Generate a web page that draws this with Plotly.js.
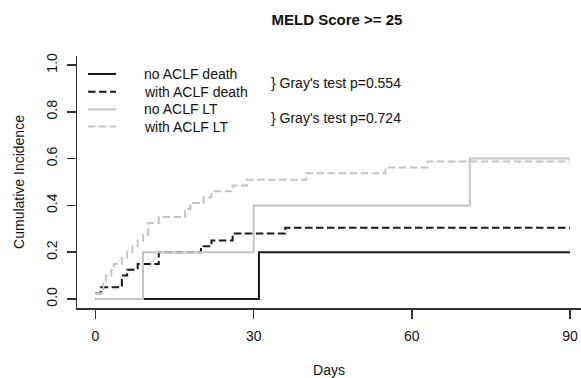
<!DOCTYPE html>
<html>
<head>
<meta charset="utf-8">
<script src="https://cdn.plot.ly/plotly-3.0.1.min.js"></script>
<style>html,body{margin:0;padding:0;background:#fff;}#chart{width:581px;height:378px;}</style>
</head>
<body>
<div id="chart"></div>
<script>
// Data (days, cumulative incidence)
var deathNoDays   = [0, 31, 90];
var deathNoVals   = [0, 0.2, 0.2];
var deathWithDays = [0, 1, 5, 6, 8, 12, 20, 22, 26, 36, 90];
var deathWithVals = [0.025, 0.05, 0.1, 0.125, 0.15, 0.2, 0.225, 0.25, 0.28, 0.305, 0.305];
var ltNoDays      = [0, 9, 30, 71, 90];
var ltNoVals      = [0, 0.2, 0.4, 0.6, 0.6];
var ltWithDays    = [0, 1.5, 2, 3, 3.5, 5, 6, 7, 8, 9, 10, 12, 17, 18, 20.5, 22, 26, 28.7, 40, 55, 63, 90];
var ltWithVals    = [0.025, 0.075, 0.1, 0.125, 0.15, 0.175, 0.2, 0.225, 0.25, 0.275, 0.325, 0.35, 0.385, 0.41, 0.435, 0.46, 0.485, 0.51, 0.5375, 0.5625, 0.5875, 0.5875];
var seriesNames   = ["no ACLF death", "with ACLF death", "no ACLF LT", "with ACLF LT"];
var testLabels    = ["} Gray's test p=0.554", "} Gray's test p=0.724"];
var xTicks        = [0, 30, 60, 90];
var yTicks        = [0, 0.2, 0.4, 0.6, 0.8, 1.0];
var yTickText     = ["0.0", "0.2", "0.4", "0.6", "0.8", "1.0"];

var FONT = "Liberation Sans, Arial, Helvetica, sans-serif";
var BLACK = "#1a1a1a", GRAY = "#c4c4c4";
var DASH = "7.5px,3.5px";
var styles = [
  {color: BLACK, dash: "solid"},
  {color: BLACK, dash: DASH},
  {color: GRAY,  dash: "solid"},
  {color: GRAY,  dash: DASH}
];
var xs = [deathNoDays, deathWithDays, ltNoDays, ltWithDays];
var ys = [deathNoVals, deathWithVals, ltNoVals, ltWithVals];

var traces = xs.map(function(x, i){
  return {
    x: x, y: ys[i], type: "scatter", mode: "lines", name: seriesNames[i],
    line: {shape: "hv", color: styles[i].color, dash: styles[i].dash, width: 2},
    showlegend: false, hoverinfo: "skip"
  };
});

// plot area geometry (pixels)
var L = 77, T = 56, W = 581, H = 378, B = 70, R = 0;
var pw = W - L - R, ph = H - T - B;
function px2x(p){ return (p - L) / pw; }
function px2y(p){ return (H - B - p) / ph; }

// manual R-style legend
var shapes = [], annotations = [];
var rowY = [74, 91.7, 109.3, 126.5];
seriesNames.forEach(function(n, i){
  shapes.push({type: "line", xref: "paper", yref: "paper",
    x0: px2x(88), x1: px2x(116), y0: px2y(rowY[i]), y1: px2y(rowY[i]),
    line: {color: styles[i].color, width: 2, dash: styles[i].dash}});
  annotations.push({xref: "paper", yref: "paper", x: px2x(142), y: px2y(rowY[i]),
    xanchor: "left", yanchor: "middle", text: n, showarrow: false,
    font: {family: FONT, size: 14, color: "#111"}});
});
testLabels.forEach(function(t, i){
  annotations.push({xref: "paper", yref: "paper", x: px2x(269),
    y: px2y((rowY[2*i] + rowY[2*i+1]) / 2),
    xanchor: "left", yanchor: "middle", text: t, showarrow: false,
    font: {family: FONT, size: 14, color: "#111"}});
});

var layout = {
  width: W, height: H,
  margin: {l: L, r: R, t: T, b: B, pad: 0},
  paper_bgcolor: "#fff", plot_bgcolor: "#fff",
  font: {family: FONT, size: 14, color: "#111"},
  title: {text: "<b>MELD Score >= 25</b>", font: {family: FONT, size: 15, color: "#111"},
          xref: "container", yref: "container", x: 337/581, y: 1 - 20/378,
          xanchor: "center", yanchor: "middle"},
  xaxis: {
    range: [-3.51, 92.09], tickvals: xTicks, ticktext: xTicks.map(String),
    showgrid: false, zeroline: false, showline: true, linecolor: "#333", linewidth: 1.5,
    ticks: "outside", ticklen: 9, tickwidth: 1.5, tickcolor: "#333",
    ticklabelstandoff: 6,
    tickfont: {family: FONT, size: 14, color: "#111"},
    title: {text: "Days", font: {family: FONT, size: 14, color: "#111"}, standoff: 24}
  },
  yaxis: {
    range: [-0.0385, 1.0385], tickvals: yTicks, ticktext: yTickText, tickangle: -90,
    showgrid: false, zeroline: false, showline: true, linecolor: "#333", linewidth: 1.5,
    ticks: "outside", ticklen: 9, tickwidth: 1.5, tickcolor: "#333",
    ticklabelstandoff: 4,
    tickfont: {family: FONT, size: 14, color: "#111"},
    title: {text: "Cumulative Incidence", font: {family: FONT, size: 14, color: "#111"}, standoff: 16}
  },
  shapes: shapes,
  annotations: annotations
};

Plotly.newPlot("chart", traces, layout, {staticPlot: true, displayModeBar: false});
</script>
</body>
</html>
